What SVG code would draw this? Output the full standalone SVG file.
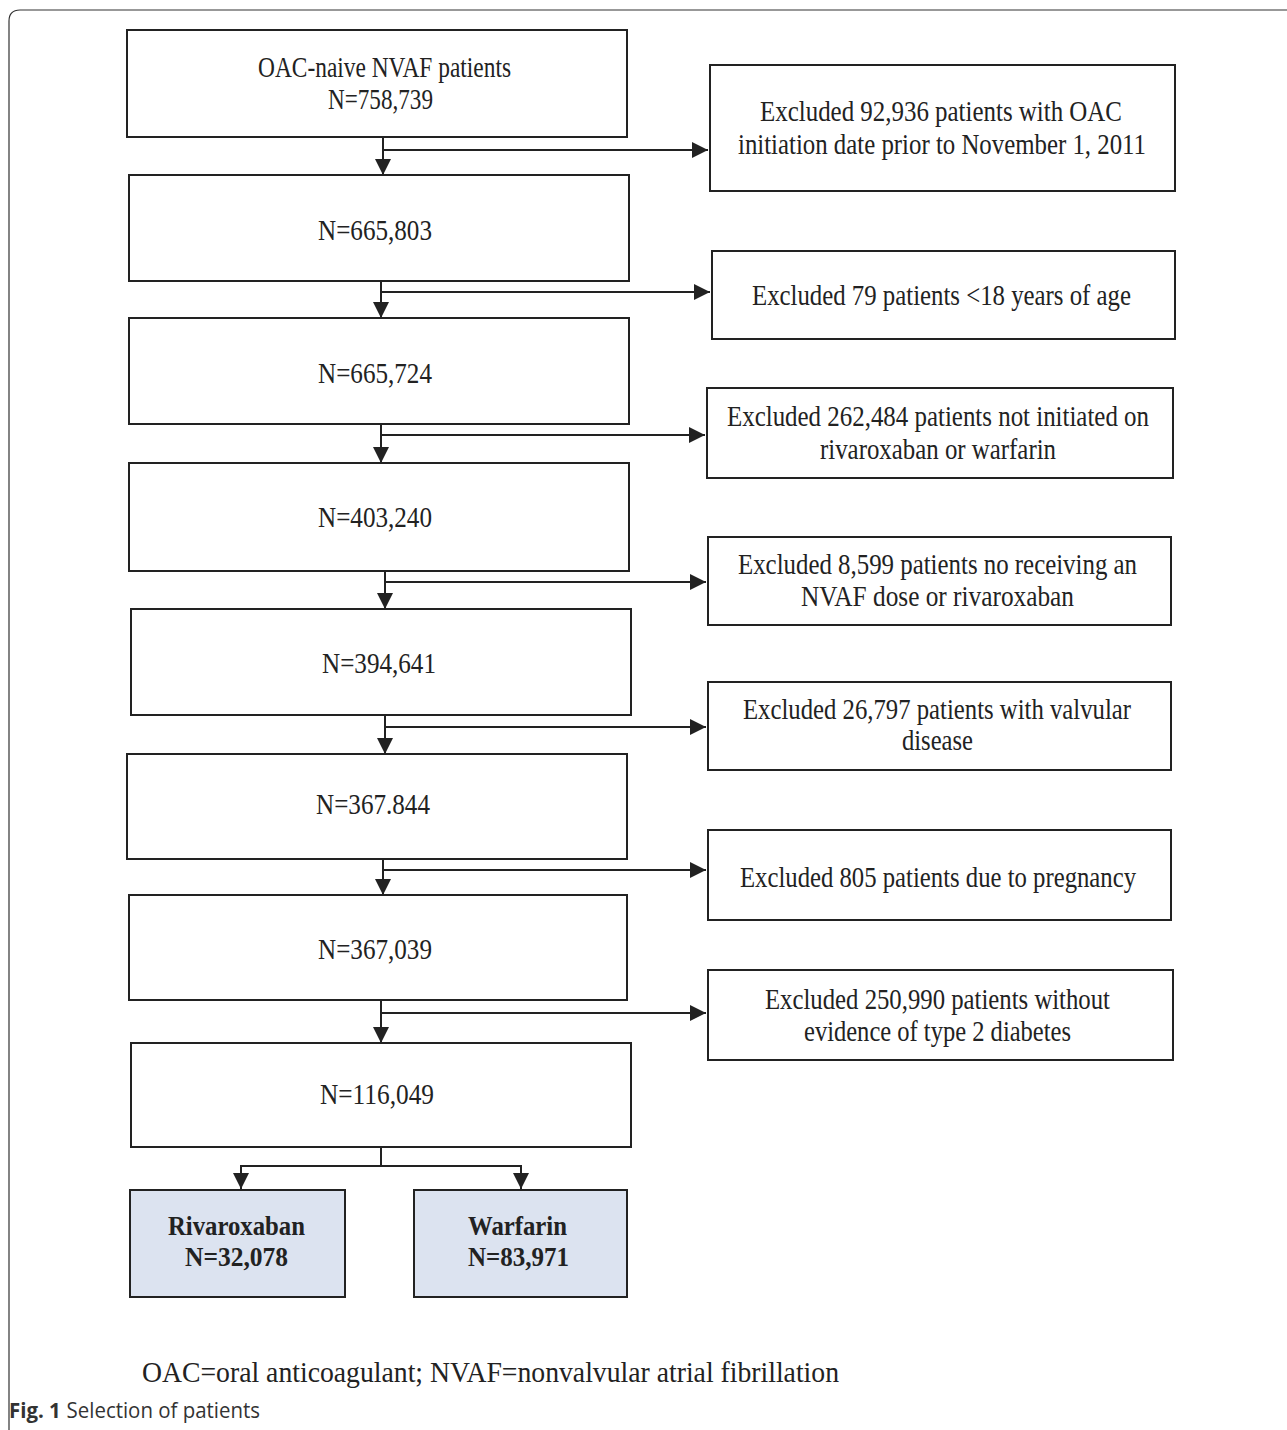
<svg xmlns="http://www.w3.org/2000/svg" width="1287" height="1430" viewBox="0 0 1287 1430">
<defs>
<style>
.box{fill:#fff;stroke:#222;stroke-width:2}
.arm{fill:#dce3f0;stroke:#222;stroke-width:2}
.t{font-family:"Liberation Serif","Times New Roman",serif;font-size:29px;fill:#222;text-anchor:middle}
.b{font-weight:bold;font-size:28px}
.ln{fill:none;stroke:#222;stroke-width:2}
</style>
<marker id="ah" viewBox="0 0 10 10" refX="10" refY="5" markerWidth="16" markerHeight="16" markerUnits="userSpaceOnUse" orient="auto">
<path d="M0,0 L10,5 L0,10 Z" fill="#222"/>
</marker>
</defs>
<rect width="1287" height="1430" fill="#fff"/>
<path d="M1287,10 H20 Q9,10 9,21 V1430" fill="none" stroke="#333" stroke-width="1.2"/>

<g id="connectors">
<path class="ln" d="M383,137 V175" marker-end="url(#ah)"/>
<path class="ln" d="M383,150 H708" marker-end="url(#ah)"/>
<path class="ln" d="M381,281 V318" marker-end="url(#ah)"/>
<path class="ln" d="M381,292 H710" marker-end="url(#ah)"/>
<path class="ln" d="M381,424 V463" marker-end="url(#ah)"/>
<path class="ln" d="M381,435 H705" marker-end="url(#ah)"/>
<path class="ln" d="M385,571 V609" marker-end="url(#ah)"/>
<path class="ln" d="M385,582 H706" marker-end="url(#ah)"/>
<path class="ln" d="M385,715 V754" marker-end="url(#ah)"/>
<path class="ln" d="M385,727 H706" marker-end="url(#ah)"/>
<path class="ln" d="M383,859 V895" marker-end="url(#ah)"/>
<path class="ln" d="M383,870 H706" marker-end="url(#ah)"/>
<path class="ln" d="M381,1000 V1043" marker-end="url(#ah)"/>
<path class="ln" d="M381,1013 H706" marker-end="url(#ah)"/>
<path class="ln" d="M381,1147 V1166 M241,1166 H521"/>
<path class="ln" d="M241,1165 V1189" marker-end="url(#ah)"/>
<path class="ln" d="M521,1165 V1189" marker-end="url(#ah)"/>
</g>

<g id="n1"><rect class="box" x="127" y="30" width="500" height="107"/>
<text class="t" x="384.5" y="77" textLength="253" lengthAdjust="spacingAndGlyphs">OAC-naive NVAF patients</text><text class="t" x="380.5" y="109" textLength="105" lengthAdjust="spacingAndGlyphs">N=758,739</text></g>
<g id="n2"><rect class="box" x="129" y="175" width="500" height="106"/><text class="t" x="375" y="240" textLength="114" lengthAdjust="spacingAndGlyphs">N=665,803</text></g>
<g id="n3"><rect class="box" x="129" y="318" width="500" height="106"/><text class="t" x="375" y="383" textLength="114" lengthAdjust="spacingAndGlyphs">N=665,724</text></g>
<g id="n4"><rect class="box" x="129" y="463" width="500" height="108"/><text class="t" x="375" y="527" textLength="114" lengthAdjust="spacingAndGlyphs">N=403,240</text></g>
<g id="n5"><rect class="box" x="131" y="609" width="500" height="106"/><text class="t" x="379" y="673" textLength="114" lengthAdjust="spacingAndGlyphs">N=394,641</text></g>
<g id="n6"><rect class="box" x="127" y="754" width="500" height="105"/><text class="t" x="373" y="814" textLength="114" lengthAdjust="spacingAndGlyphs">N=367.844</text></g>
<g id="n7"><rect class="box" x="129" y="895" width="498" height="105"/><text class="t" x="375" y="959" textLength="114" lengthAdjust="spacingAndGlyphs">N=367,039</text></g>
<g id="n8"><rect class="box" x="131" y="1043" width="500" height="104"/><text class="t" x="377" y="1104" textLength="114" lengthAdjust="spacingAndGlyphs">N=116,049</text></g>
<g id="n9"><rect class="arm" x="130" y="1190" width="215" height="107"/>
<text class="t b" x="236.5" y="1235" textLength="137" lengthAdjust="spacingAndGlyphs">Rivaroxaban</text><text class="t b" x="236.5" y="1266" textLength="103" lengthAdjust="spacingAndGlyphs">N=32,078</text></g>
<g id="n10"><rect class="arm" x="414" y="1190" width="213" height="107"/>
<text class="t b" x="517.5" y="1235" textLength="99" lengthAdjust="spacingAndGlyphs">Warfarin</text><text class="t b" x="518.5" y="1266" textLength="101" lengthAdjust="spacingAndGlyphs">N=83,971</text></g>

<g id="e1"><rect class="box" x="710" y="65" width="465" height="126"/>
<text class="t" x="941" y="121" textLength="362" lengthAdjust="spacingAndGlyphs">Excluded 92,936 patients with OAC</text><text class="t" x="942" y="154" textLength="408" lengthAdjust="spacingAndGlyphs">initiation date prior to November 1, 2011</text></g>
<g id="e2"><rect class="box" x="712" y="251" width="463" height="88"/><text class="t" x="941.5" y="305" textLength="379" lengthAdjust="spacingAndGlyphs">Excluded 79 patients &lt;18 years of age</text></g>
<g id="e3"><rect class="box" x="707" y="388" width="466" height="90"/>
<text class="t" x="938" y="426" textLength="422" lengthAdjust="spacingAndGlyphs">Excluded 262,484 patients not initiated  on</text><text class="t" x="938" y="459" textLength="236" lengthAdjust="spacingAndGlyphs">rivaroxaban or warfarin</text></g>
<g id="e4"><rect class="box" x="708" y="537" width="463" height="88"/>
<text class="t" x="937.5" y="574" textLength="399" lengthAdjust="spacingAndGlyphs">Excluded 8,599 patients no receiving  an</text><text class="t" x="937.5" y="606" textLength="273" lengthAdjust="spacingAndGlyphs">NVAF dose or rivaroxaban</text></g>
<g id="e5"><rect class="box" x="708" y="682" width="463" height="88"/>
<text class="t" x="937" y="719" textLength="388" lengthAdjust="spacingAndGlyphs">Excluded 26,797 patients with valvular</text><text class="t" x="937.5" y="750" textLength="71" lengthAdjust="spacingAndGlyphs">disease</text></g>
<g id="e6"><rect class="box" x="708" y="830" width="463" height="90"/><text class="t" x="938" y="887" textLength="396" lengthAdjust="spacingAndGlyphs">Excluded 805 patients due to pregnancy</text></g>
<g id="e7"><rect class="box" x="708" y="970" width="465" height="90"/>
<text class="t" x="937.5" y="1009" textLength="345" lengthAdjust="spacingAndGlyphs">Excluded 250,990 patients without</text><text class="t" x="937.5" y="1041" textLength="267" lengthAdjust="spacingAndGlyphs">evidence of type 2 diabetes</text></g>

<text x="142" y="1382" textLength="697" lengthAdjust="spacingAndGlyphs" style="font-family:'Liberation Serif','Times New Roman',serif;font-size:29px;fill:#222">OAC=oral anticoagulant; NVAF=nonvalvular atrial fibrillation</text>
<text x="9" y="1418" textLength="251" lengthAdjust="spacingAndGlyphs" style="font-family:'Open Sans','Noto Sans',sans-serif;font-size:21px;fill:#333"><tspan font-weight="bold">Fig. 1</tspan><tspan dx="6">Selection of patients</tspan></text>
</svg>
